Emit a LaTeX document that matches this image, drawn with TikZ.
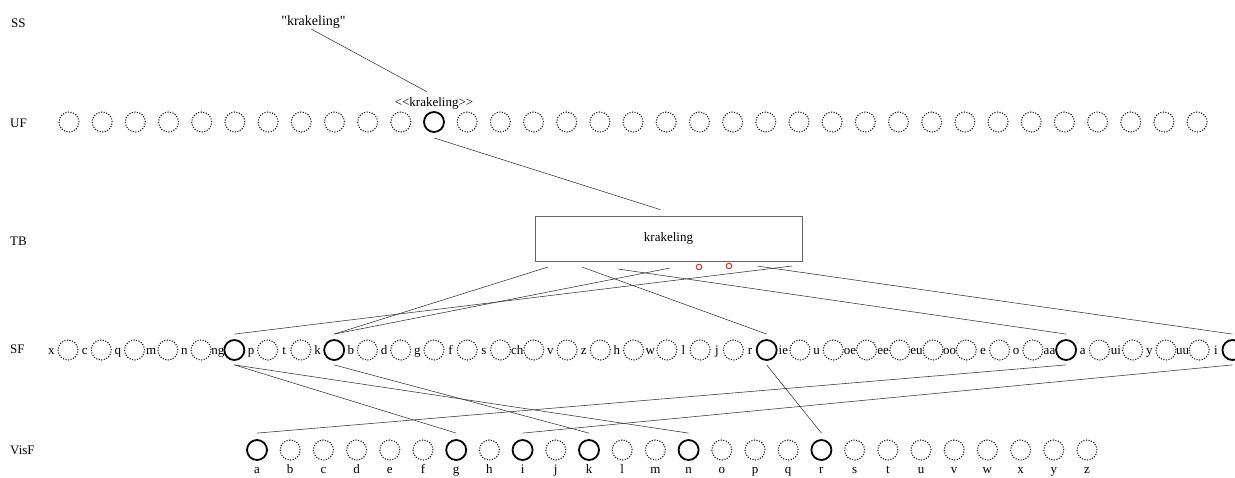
\documentclass[tikz,border=0pt]{standalone}
\usepackage{fontspec}
\setmainfont{Liberation Serif}[Ligatures=TeXOff]
\usetikzlibrary{calc,positioning}
\definecolor{MissRed}{HTML}{D03A3A}

\tikzset{
	dotc/.style={circle, draw=black!90, dash pattern=on 1.1pt off 1.5pt, line width=1.1pt, minimum size=20pt, inner sep=0pt},
	solc/.style={circle, draw=black, line width=1.8pt, minimum size=20pt, inner sep=0pt},
	miss/.style={circle, draw=MissRed, line width=1.1pt, minimum size=5.5pt, inner sep=0pt},
	txt/.style={inner sep=1pt, anchor=base},
	lvl/.style={inner sep=0pt, anchor=base west},
	link/.style={draw=black!80, line width=0.55pt}
}

\begin{document}
\begin{tikzpicture}[x=1pt, y=-1pt, font=\fontsize{13}{15}\selectfont]
	\useasboundingbox (0,0) rectangle (1235,477);
	
	% level names
	\node[lvl] (lv-ss) at (11,27) {SS};
	\node[lvl] (lv-uf) at (10,127) {UF};
	\node[lvl] (lv-tb) at (10,245.5) {TB};
	\node[lvl] (lv-sf) at (10,353.5) {SF};
	\node[lvl] (lv-vis) at (10,454.5) {VisF};
	
	% SS
	\node[txt, font=\fontsize{14}{16}\selectfont] (ssword) at (313.5,25) {"krakeling"};
	
	% UF
	\foreach \i in {0,...,34}{
		\ifnum\i=11
			\node[solc] (uf\i) at ({69+33.18*\i},122) {};
		\else
			\node[dotc] (uf\i) at ({69+33.18*\i},122) {};
		\fi
	}
	\node[txt] (ufword) at (434,106.5) {<<krakeling>>};
	
	% TB
	\node[draw=black!60, line width=0.6pt, minimum width=267pt, minimum height=45pt, inner sep=0pt] (tb) at (668.5,238.5) {krakeling};
	\coordinate (tb-k1) at (548,267);
	\coordinate (tb-r) at (582,267);
	\coordinate (tb-a) at (618,269);
	\coordinate (tb-k2) at (670,268);
	\node[miss] (tb-e) at (699,267) {};
	\node[miss] (tb-l) at (729,266) {};
	\coordinate (tb-i) at (757,266);
	\coordinate (tb-ng) at (792,266);
	
	% SF
	\foreach \l/\s [count=\i from 0] in {x/dotc,c/dotc,q/dotc,m/dotc,n/dotc,ng/solc,p/dotc,t/dotc,k/solc,b/dotc,d/dotc,g/dotc,f/dotc,s/dotc,ch/dotc,v/dotc,z/dotc,h/dotc,w/dotc,l/dotc,j/dotc,r/solc,ie/dotc,u/dotc,oe/dotc,ee/dotc,eu/dotc,oo/dotc,e/dotc,o/dotc,aa/solc,a/dotc,ui/dotc,y/dotc,uu/dotc,i/solc}{
		\node[\s] (sf-\l) at ({68+33.27*\i},350) {};
		\node[txt] (sft-\l) at ({68+33.27*\i-16.6},354) {\l};
	}
	
	% VisF
	\foreach \l/\s [count=\i from 0] in {a/solc,b/dotc,c/dotc,d/dotc,e/dotc,f/dotc,g/solc,h/dotc,i/solc,j/dotc,k/solc,l/dotc,m/dotc,n/solc,o/dotc,p/dotc,q/dotc,r/solc,s/dotc,t/dotc,u/dotc,v/dotc,w/dotc,x/dotc,y/dotc,z/dotc}{
		\node[\s] (vis-\l) at ({257+33.2*\i},450) {};
		\node[txt] (vist-\l) at ({257+33.2*\i},473) {\l};
	}
	
	% links
	\draw[link] ($(ssword.south)+(-2,0)$) -- ($(ufword.north)+(-7,-4.5)$);
	\draw[link] ($(uf11.south)+(0,5)$) -- ($(tb.north)+(-8,-6)$);
	
	\draw[link] (tb-k1) -- ($(sf-k.north)+(0,-5)$);
	\draw[link] (tb-r) -- ($(sf-r.north)+(0,-5)$);
	\draw[link] (tb-a) -- ($(sf-aa.north)+(0,-5)$);
	\draw[link] (tb-k2) -- ($(sf-k.north)+(0,-5)$);
	\draw[link] (tb-i) -- ($(sf-i.north)+(0,-5)$);
	\draw[link] (tb-ng) -- ($(sf-ng.north)+(0,-5)$);
	
	\draw[link] ($(sf-ng.south)+(0,4)$) -- ($(vis-g.north)+(0,-6)$);
	\draw[link] ($(sf-ng.south)+(0,4)$) -- ($(vis-n.north)+(0,-6)$);
	\draw[link] ($(sf-k.south)+(0,4)$) -- ($(vis-k.north)+(0,-6)$);
	\draw[link] ($(sf-r.south)+(0,4)$) -- ($(vis-r.north)+(0,-6)$);
	\draw[link] ($(sf-aa.south)+(0,4)$) -- ($(vis-a.north)+(0,-6)$);
	\draw[link] ($(sf-i.south)+(0,4)$) -- ($(vis-i.north)+(0,-6)$);
\end{tikzpicture}
\end{document}
